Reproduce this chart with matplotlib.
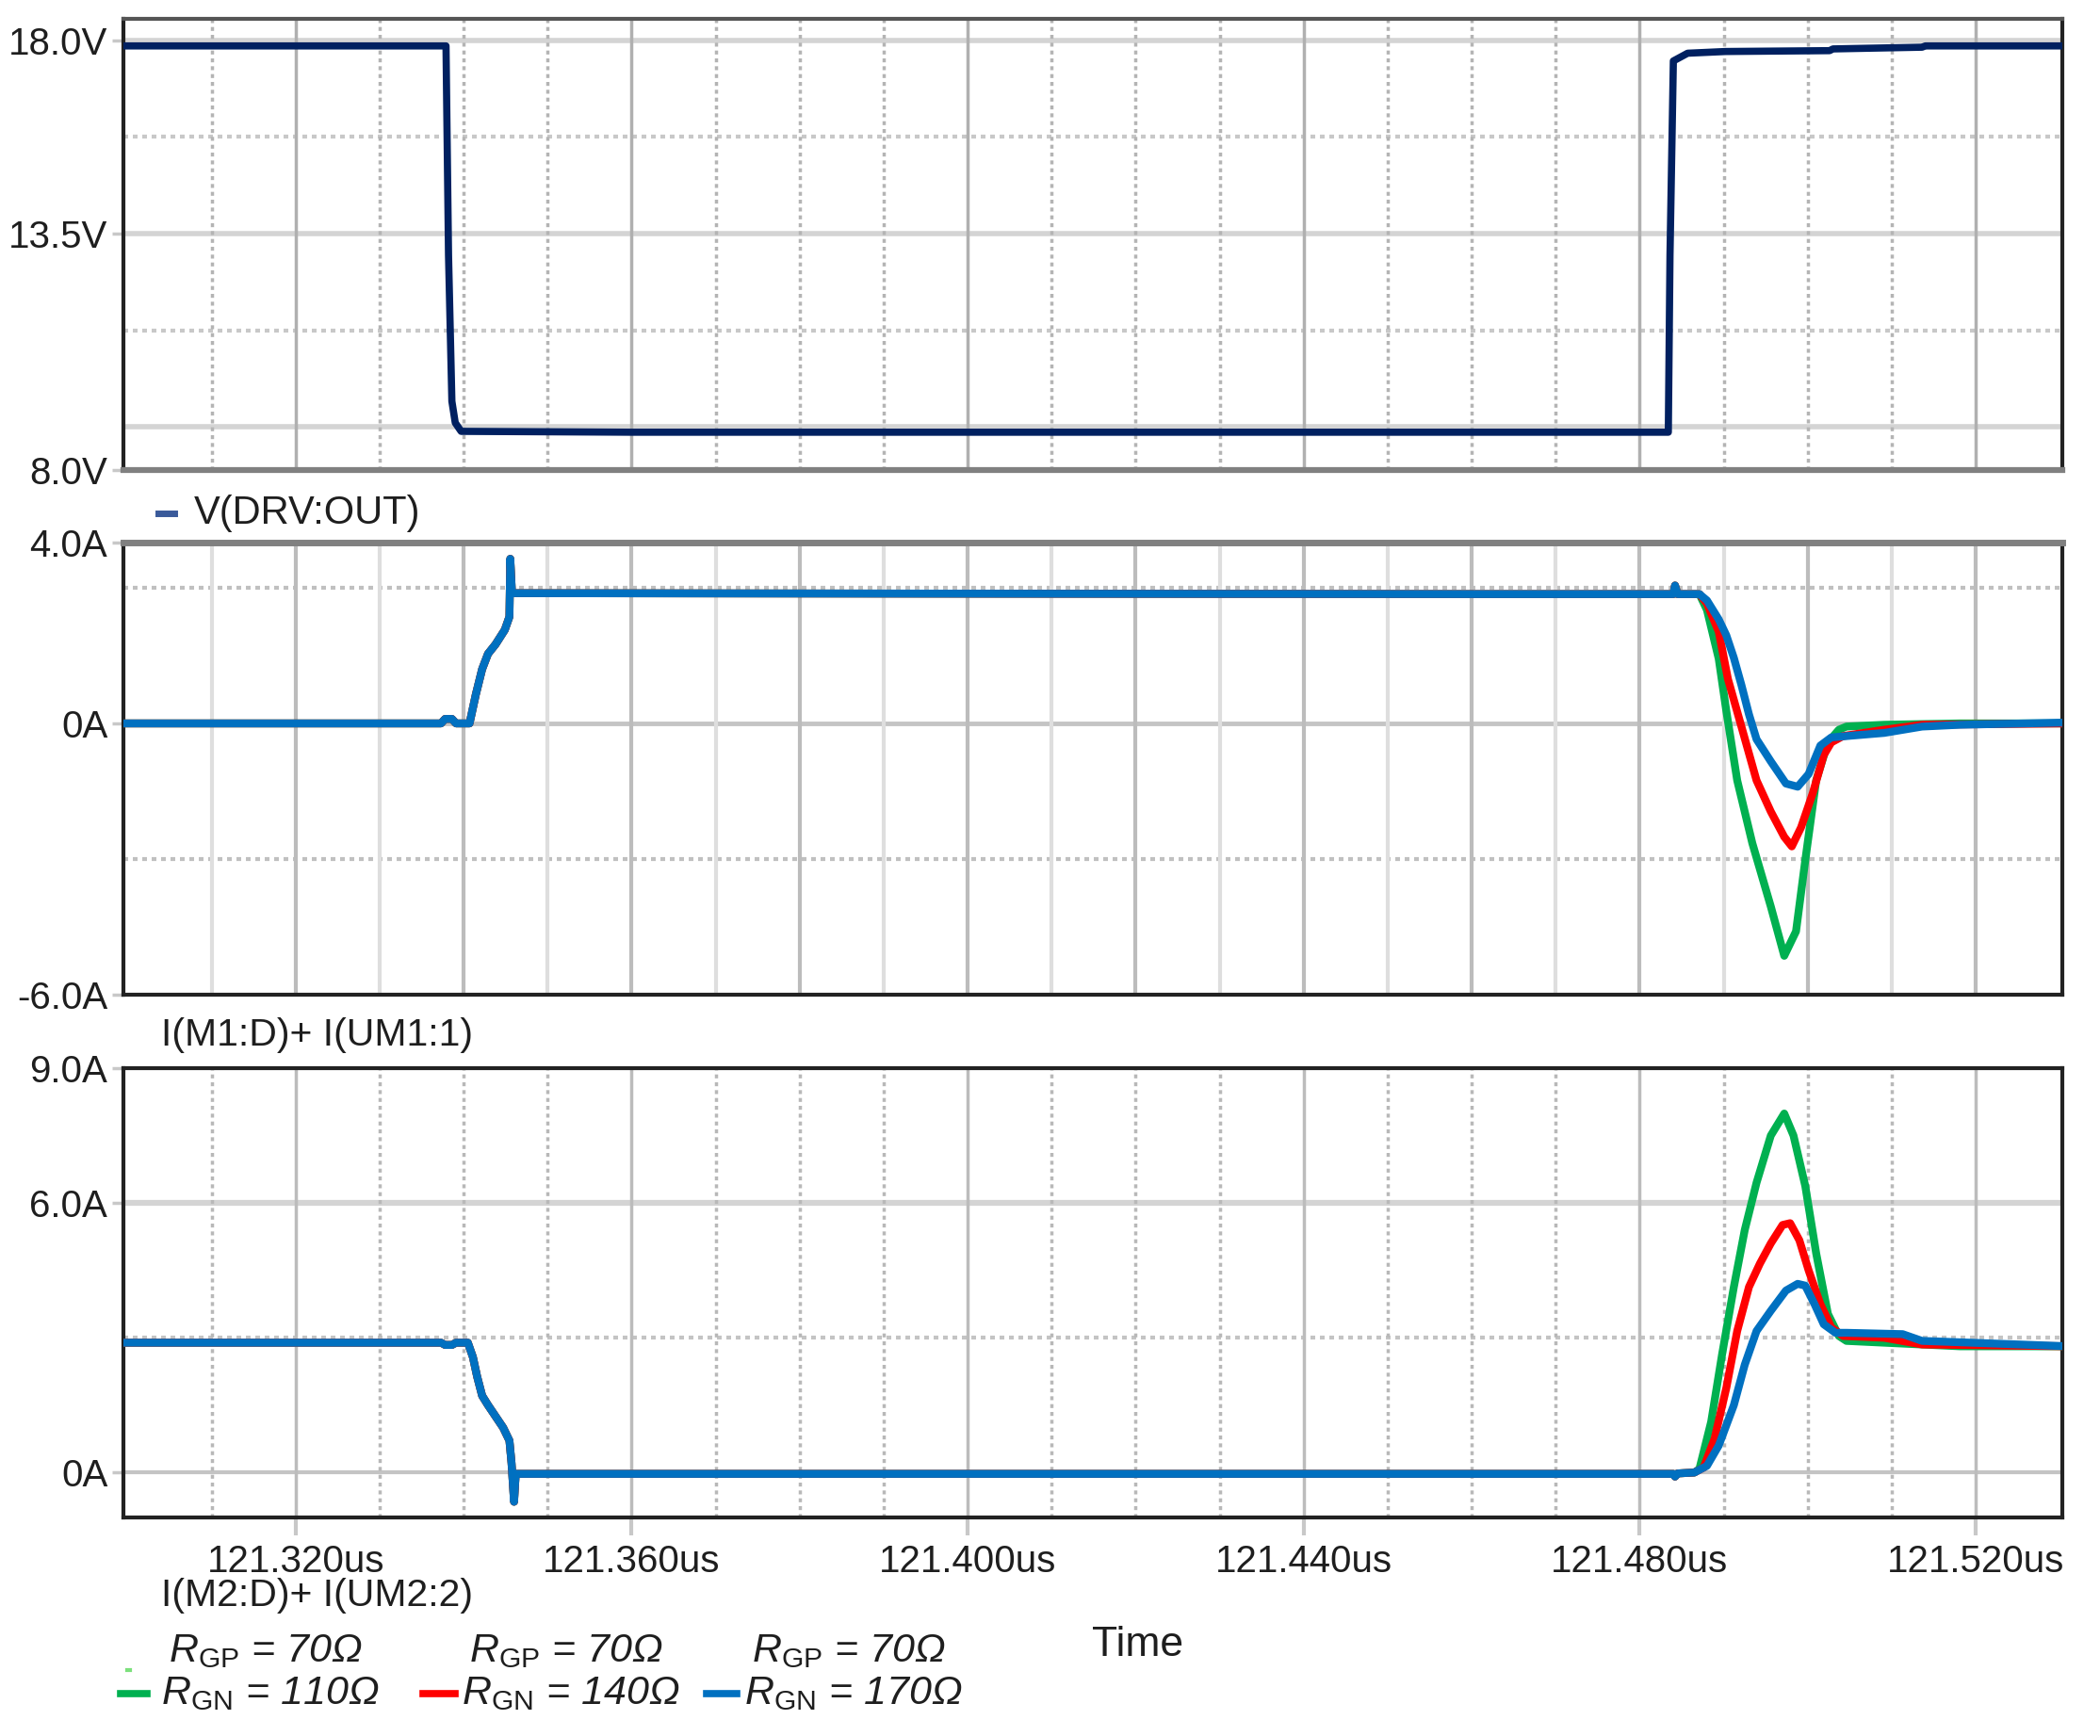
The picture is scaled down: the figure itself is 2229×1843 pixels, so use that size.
import numpy as np
import matplotlib
matplotlib.use("Agg")
import matplotlib.pyplot as plt

plt.rcParams['font.family'] = ['Liberation Sans', 'DejaVu Sans']
plt.rcParams['mathtext.fontset'] = 'custom'
plt.rcParams['mathtext.it'] = 'Liberation Sans:italic'
plt.rcParams['mathtext.rm'] = 'Liberation Sans'

# ---------------- data (time in us) ----------------
t_vdrv = [121.2990, 121.3379, 121.3382, 121.3386, 121.3390, 121.3397, 121.3600, 121.4834,
          121.4836, 121.4840, 121.4857, 121.4902, 121.5026, 121.5030, 121.5136, 121.5140, 121.5310]
v_drv = [17.87, 17.87, 13.0, 9.6, 9.1, 8.9, 8.88, 8.88,
         13.0, 17.52, 17.70, 17.74, 17.76, 17.80, 17.84, 17.87, 17.87]

# I(M1:D)+I(UM1:1): common part (all three runs overlap)
t_i1_common = [121.2990, 121.3373, 121.3378, 121.3386, 121.3391, 121.3407, 121.34145, 121.3422,
               121.3429, 121.3438, 121.3449, 121.34545, 121.34555, 121.34575, 121.4600, 121.4780,
               121.4840, 121.4842, 121.4845, 121.4871]
i1_common = [0.0, 0.0, 0.1, 0.1, 0.0, 0.0, 0.64, 1.2,
             1.54, 1.75, 2.07, 2.36, 3.64, 2.88, 2.86, 2.86,
             2.86, 3.05, 2.86, 2.86]
# turn-off dip for each gate resistance
t_i1_g = [121.4880, 121.4894, 121.4903, 121.4916, 121.4934, 121.4956, 121.4972, 121.4986,
          121.4997, 121.5010, 121.5024, 121.5037, 121.5046, 121.5091, 121.5181, 121.5310]
i1_g = [2.51, 1.43, 0.28, -1.26, -2.65, -4.05, -5.14, -4.6,
        -3.03, -1.26, -0.42, -0.14, -0.07, -0.03, 0.0, 0.0]
t_i1_r = [121.4880, 121.4894, 121.4905, 121.4921, 121.4939, 121.4956, 121.4972, 121.4981,
          121.4992, 121.5006, 121.5019, 121.5028, 121.5042, 121.5091, 121.5136, 121.5310]
i1_r = [2.65, 2.03, 0.98, -0.07, -1.26, -1.95, -2.51, -2.72,
        -2.3, -1.54, -0.7, -0.42, -0.28, -0.14, -0.03, 0.0]
t_i1_b = [121.4880, 121.4894, 121.4903, 121.4912, 121.4921, 121.4930, 121.4939, 121.4956,
          121.4974, 121.4988, 121.5001, 121.5015, 121.5028, 121.5046, 121.5091, 121.5136,
          121.5181, 121.5310]
i1_b = [2.72, 2.3, 1.95, 1.45, 0.85, 0.2, -0.35, -0.84,
        -1.33, -1.40, -1.12, -0.49, -0.31, -0.28, -0.21, -0.07,
        -0.03, 0.02]

# I(M2:D)+I(UM2:2): common part
t_i2_common = [121.2990, 121.3373, 121.3378, 121.3386, 121.3391, 121.3405, 121.3411, 121.3416,
               121.3422, 121.3429, 121.3438, 121.3447, 121.34545, 121.3457, 121.3460, 121.3462,
               121.4840, 121.4842, 121.4845, 121.4865]
i2_common = [2.89, 2.89, 2.84, 2.84, 2.89, 2.89, 2.57, 2.14,
             1.71, 1.5, 1.25, 1.0, 0.71, 0.21, -0.65, -0.03,
             -0.03, -0.09, -0.02, 0.0]
# turn-off peak for each gate resistance
t_i2_g = [121.4871, 121.4885, 121.4898, 121.4912, 121.4925, 121.4939, 121.4956, 121.4972,
          121.4983, 121.4997, 121.5010, 121.5024, 121.5037, 121.5046, 121.5091, 121.5181, 121.5310]
i2_g = [0.08, 1.13, 2.63, 4.13, 5.4, 6.45, 7.5, 7.99,
        7.5, 6.38, 4.88, 3.53, 3.04, 2.93, 2.89, 2.81, 2.81]
t_i2_r = [121.4876, 121.4889, 121.4903, 121.4916, 121.4930, 121.4943, 121.4956, 121.4970,
          121.4979, 121.4990, 121.5001, 121.5015, 121.5028, 121.5042, 121.5091, 121.5136, 121.5310]
i2_r = [0.11, 0.75, 1.88, 3.15, 4.13, 4.65, 5.1, 5.51,
        5.55, 5.17, 4.5, 3.75, 3.23, 3.04, 3.0, 2.85, 2.81]
t_i2_b = [121.4880, 121.4894, 121.4912, 121.4925, 121.4939, 121.4956, 121.4974, 121.4988,
          121.4997, 121.5008, 121.5019, 121.5033, 121.5046, 121.5113, 121.5136, 121.5310]
i2_b = [0.15, 0.6, 1.5, 2.4, 3.15, 3.6, 4.05, 4.2,
        4.16, 3.75, 3.3, 3.11, 3.11, 3.08, 2.93, 2.81]

run_labels_gp = ['70Ω', '70Ω', '70Ω']
run_labels_gn = ['110Ω', '140Ω', '170Ω']
run_colors = ['#00b050', '#ff0000', '#0070c0']

x_major = [121.320, 121.360, 121.400, 121.440, 121.480, 121.520]
x_major_labels = ['121.320us', '121.360us', '121.400us', '121.440us', '121.480us', '121.520us']
x_minor = [121.310, 121.330, 121.340, 121.350, 121.370, 121.380, 121.390, 121.410, 121.420,
           121.430, 121.450, 121.460, 121.470, 121.490, 121.500, 121.510]

top_yticks = [8.0, 13.5, 18.0]
top_ylabels = ['8.0V', '13.5V', '18.0V']
mid_yticks = [-6.0, 0.0, 4.0]
mid_ylabels = ['-6.0A', '0A', '4.0A']
bot_yticks = [0.0, 6.0, 9.0]
bot_ylabels = ['0A', '6.0A', '9.0A']

# ---------------- figure ----------------
W, H = 2229, 1843
fig = plt.figure(figsize=(W / 100, H / 100), dpi=100)


def rect(l, t, r, b):
    return [l / W, 1 - b / H, (r - l) / W, (b - t) / H]


ax1 = fig.add_axes(rect(131, 20, 2189, 499))
ax2 = fig.add_axes(rect(131, 576, 2189, 1056))
ax3 = fig.add_axes(rect(131, 1134, 2189, 1611))

XL = (121.2995, 121.5303)
FS = 29
TXT = '#1e1e1e'
DOT = (0, (1.2, 1.2))

for ax in (ax1, ax2, ax3):
    ax.set_xlim(*XL)
    for s in ax.spines.values():
        s.set_linewidth(3)
        s.set_color('#222222')
    ax.tick_params(axis='y', direction='out', length=9, width=2.5, color='#c8c8c8',
                   labelsize=FS, pad=3, labelcolor=TXT)

# top panel grid
ax1.set_ylim(8.0, 18.5)
for y in (18.0, 13.5, 9.0):
    ax1.axhline(y, color='#d4d4d4', lw=4, zorder=1)
for y in (15.75, 11.25):
    ax1.axhline(y, color='#c8c8c8', lw=3, ls=DOT, zorder=1)
for x in x_major:
    ax1.axvline(x, color='#b0b0b0', lw=2.5, zorder=1)
for x in x_minor:
    ax1.axvline(x, color='#b4b4b4', lw=2.5, ls=DOT, zorder=1)
ax1.spines['bottom'].set_color('#808080')
ax1.spines['bottom'].set_linewidth(4.5)
ax1.spines['top'].set_color('#555555')

# middle panel grid
ax2.set_ylim(-6.0, 4.0)
ax2.axhline(0.0, color='#c4c4c4', lw=3.5, zorder=1)
for y in (3.0, -3.0):
    ax2.axhline(y, color='#c0c0c0', lw=3, ls=DOT, zorder=1)
for x in x_major + x_minor:
    c = '#bcbcbc' if round((x - 121.300) * 1000) % 20 == 0 else '#dedede'
    ax2.axvline(x, color=c, lw=3, zorder=1)
ax2.spines['top'].set_color('#808080')
ax2.spines['top'].set_linewidth(5)

# bottom panel grid
ax3.set_ylim(-1.0, 9.0)
ax3.axhline(6.0, color='#d4d4d4', lw=4.5, zorder=1)
ax3.axhline(0.0, color='#c4c4c4', lw=3, zorder=1)
ax3.axhline(3.0, color='#c4c4c4', lw=3, ls=DOT, zorder=1)
for x in x_major:
    ax3.axvline(x, color='#bcbcbc', lw=2.5, zorder=1)
for x in x_minor:
    ax3.axvline(x, color='#b8b8b8', lw=2.5, ls=DOT, zorder=1)

# ticks
ax1.set_yticks(top_yticks, top_ylabels)
ax2.set_yticks(mid_yticks, mid_ylabels)
ax3.set_yticks(bot_yticks, bot_ylabels)
for ax in (ax1, ax2):
    ax.set_xticks([])
ax3.set_xticks(x_major, x_major_labels)
ax3.tick_params(axis='x', direction='out', length=14, width=3, color='#c8c8c8',
                labelsize=FS, pad=6, labelcolor=TXT)

# traces
ax1.plot(t_vdrv, v_drv, color='#002060', lw=5.5, zorder=3, solid_joinstyle='round')

i1_series = [(t_i1_g, i1_g), (t_i1_r, i1_r), (t_i1_b, i1_b)]
i2_series = [(t_i2_g, i2_g), (t_i2_r, i2_r), (t_i2_b, i2_b)]
for (tt, yy), c in zip(i1_series, run_colors):
    ax2.plot(list(t_i1_common) + list(tt), list(i1_common) + list(yy), color=c, lw=6,
             zorder=3, solid_joinstyle='round')
for (tt, yy), c in zip(i2_series, run_colors):
    ax3.plot(list(t_i2_common) + list(tt), list(i2_common) + list(yy), color=c, lw=6,
             zorder=3, solid_joinstyle='round')


# ---------------- texts ----------------
def ftext(x, y, s, **kw):
    fig.text(x / W, 1 - y / H, s, va='center', **kw)


ax_line = fig.add_axes([0, 0, 1, 1], facecolor='none')
ax_line.set_xlim(0, W)
ax_line.set_ylim(H, 0)
ax_line.axis('off')

ax_line.plot([168, 185], [545, 545], color='#3a5a9a', lw=5)
ftext(206, 545, 'V(DRV:OUT)', fontsize=30, color=TXT)
ftext(171, 1099, 'I(M1:D)+ I(UM1:1)', fontsize=29.5, color=TXT)
ftext(171, 1694, 'I(M2:D)+ I(UM2:2)', fontsize=29.5, color=TXT)
ftext(1208, 1746, 'Time', fontsize=32, color=TXT, ha='center')

leg_dash_x = [(128, 156), (449, 483), (750, 782)]
leg_text_x = [171, 490, 790]
ax_line.plot([135, 138], [1773, 1773], color='#7ce07c', lw=3)
for (x0, x1), tx, c, gp, gn in zip(leg_dash_x, leg_text_x, run_colors, run_labels_gp, run_labels_gn):
    ax_line.plot([x0, x1], [1798, 1798], color=c, lw=5.5)
    ftext(tx + 8, 1753, r'$R_{\mathrm{GP}}$ = ' + gp, fontsize=31, style='italic', color=TXT)
    ftext(tx, 1798, r'$R_{\mathrm{GN}}$ = ' + gn, fontsize=31, style='italic', color=TXT)

fig.savefig('out.png', dpi=100, facecolor='white')
